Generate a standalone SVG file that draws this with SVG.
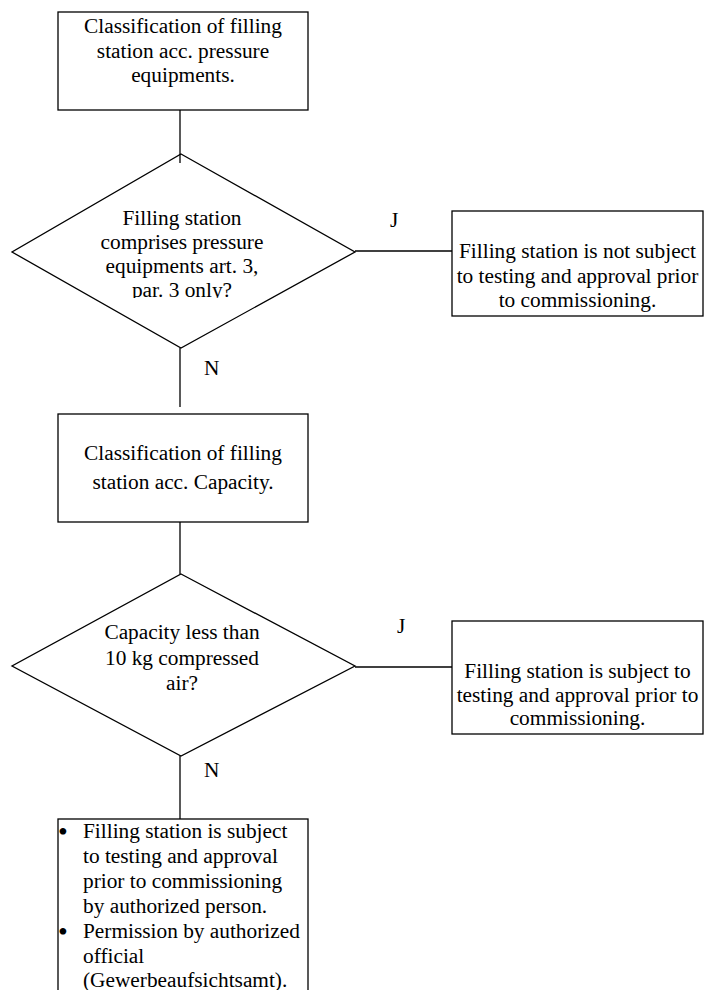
<svg xmlns="http://www.w3.org/2000/svg" width="705" height="990" viewBox="0 0 705 990">
<style>
.s{fill:#fff;stroke:#000;stroke-width:1.3}
.c{stroke:#000;stroke-width:1.3;fill:none}
text{font-family:"Liberation Serif","Times New Roman",serif;font-size:21.33px;fill:#000}
.m{text-anchor:middle}
.b{font-size:28px}
</style>
<defs>
<clipPath id="clipD1"><rect x="0" y="150" width="360" height="148"/></clipPath>
</defs>
<rect width="705" height="990" fill="#fff"/>
<g id="connectors">
<line class="c" x1="180" y1="110" x2="180" y2="163"/>
<line class="c" x1="180" y1="348" x2="180" y2="407"/>
<line class="c" x1="355" y1="251" x2="452" y2="251"/>
<line class="c" x1="180" y1="522" x2="180" y2="574"/>
<line class="c" x1="355" y1="667" x2="452" y2="667"/>
<line class="c" x1="180" y1="756" x2="180" y2="819"/>
<text x="390" y="227">J</text>
<text x="204" y="375">N</text>
<text x="397" y="633">J</text>
<text x="204" y="777">N</text>
</g>
<g id="box1">
<rect class="s" x="58" y="12" width="250" height="98"/>
<text class="m" x="183" y="33">Classification of filling</text>
<text class="m" x="183" y="57.5">station acc. pressure</text>
<text class="m" x="183" y="82">equipments.</text>
</g>
<g id="decision1">
<polygon class="c" points="181,154 355,252 181,348 12,252"/>
<g clip-path="url(#clipD1)">
<text class="m" x="182" y="225">Filling station</text>
<text class="m" x="182" y="249">comprises pressure</text>
<text class="m" x="182" y="273">equipments art. 3,</text>
<text class="m" x="182" y="297">par. 3 only?</text>
</g>
</g>
<g id="result1">
<rect class="s" x="452" y="211" width="251" height="105"/>
<text class="m" x="577.5" y="258">Filling station is not subject</text>
<text class="m" x="577.5" y="283">to testing and approval prior</text>
<text class="m" x="577.5" y="307">to commissioning.</text>
</g>
<g id="box2">
<rect class="s" x="58" y="414" width="250" height="108"/>
<text class="m" x="183" y="460">Classification of filling</text>
<text class="m" x="183" y="489">station acc. Capacity.</text>
</g>
<g id="decision2">
<polygon class="c" points="181,574 355,666 181,756 12,666"/>
<text class="m" x="182" y="639">Capacity less than</text>
<text class="m" x="182" y="665">10 kg compressed</text>
<text class="m" x="182" y="690">air?</text>
</g>
<g id="result2">
<rect class="s" x="452" y="621" width="251" height="113"/>
<text class="m" x="577.5" y="678">Filling station is subject to</text>
<text class="m" x="577.5" y="702">testing and approval prior to</text>
<text class="m" x="577.5" y="725">commissioning.</text>
</g>
<g id="box3">
<rect class="s" x="58" y="819" width="250" height="200"/>
<text class="b" x="58" y="841">•</text>
<text x="83" y="838">Filling station is subject</text>
<text x="83" y="863">to testing and approval</text>
<text x="83" y="888">prior to commissioning</text>
<text x="83" y="913">by authorized person.</text>
<text class="b" x="58" y="941">•</text>
<text x="83" y="938">Permission by authorized</text>
<text x="83" y="963">official</text>
<text x="83" y="987">(Gewerbeaufsichtsamt).</text>
</g>
</svg>
